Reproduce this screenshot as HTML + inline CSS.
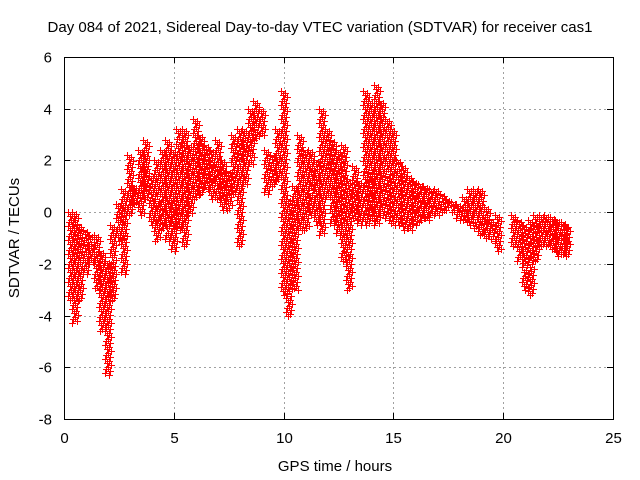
<!DOCTYPE html>
<html><head><meta charset="utf-8"><style>
body{margin:0;background:#fff}
svg{display:block;font-family:"Liberation Sans",sans-serif;font-size:15px}
</style></head><body>
<svg id="chart" width="640" height="480">
<rect width="640" height="480" fill="#fff"/>
<g id="grid"></g>
<g id="axes"></g>
<g id="marks"></g>
<text x="320" y="32" text-anchor="middle">Day 084 of 2021, Sidereal Day-to-day VTEC variation (SDTVAR) for receiver cas1</text>
<text x="335" y="471" text-anchor="middle">GPS time / hours</text>
<text transform="translate(19,238) rotate(-90)" text-anchor="middle">SDTVAR / TECUs</text>
</svg>
<script>
const xTicks=[0,5,10,15,20,25];
const yTicks=[-8,-6,-4,-2,0,2,4,6];
const times=[0.3,0.5,0.75,1,1.25,1.5,1.75,2,2.25,2.5,2.75,3,3.25,3.5,3.75,4,4.25,4.5,4.75,5,5.25,5.5,5.75,6,6.25,6.5,6.75,7,7.25,7.5,7.75,8,8.25,8.5,8.75,9,9.25,9.5,9.75,10,10.25,10.5,10.75,11,11.25,11.5,11.75,12,12.25,12.5,12.75,13,13.25,13.5,13.75,14,14.25,14.5,14.75,15,15.25,15.5,15.75,16,16.25,16.5,16.75,17,17.25,17.5,17.75,18,18.25,18.5,18.75,19,19.25,19.5,19.75,20.5,20.75,21,21.25,21.5,21.75,22,22.25,22.5,22.75,22.9];
const highs=[0,0,-0.5,-0.7,-0.9,-0.9,-1.5,-1.9,-0.5,0.3,0.9,2.2,1.0,2.4,2.8,1.4,2,2.4,2.8,2.4,3.2,3.2,2.6,3.6,3,2.6,2.4,2.8,2,1.6,3,3.2,3.2,4,4.3,4,2.4,2.2,3.2,4.7,0.5,1,3,2.4,2.4,2,4,3.2,2.8,2.4,2.6,1.2,1.8,1.2,4.7,4.3,4.9,4.3,3.6,3.2,2,1.8,1.4,1.2,1.1,1,0.9,0.9,0.7,0.5,0.4,0.3,0.6,0.9,0.9,0.9,0.2,-0.3,-0.1,-0.1,-0.3,-0.5,-0.3,-0.1,-0.1,-0.1,-0.2,-0.3,-0.4,-0.5];
const lows=[-3.4,-4.3,-3.4,-2.4,-2,-3,-4.6,-6.3,-3.4,-1.1,-2.4,-0.1,0.3,-0.1,0.5,-0.5,-1.1,-0.7,-1.1,-1.5,-0.7,-1.3,-0.1,0.5,0.7,0.9,0.5,0.5,0.1,0.1,0.7,-1.3,1,1.8,2.8,3,0.7,1,1.2,-3.2,-4,-3,-0.7,-0.7,-0.1,-0.5,-0.9,0.5,-0.5,-0.9,-1.9,-3,-0.3,-0.5,-0.5,-0.3,-0.5,-0.1,-0.3,-0.5,-0.5,-0.7,-0.7,-0.5,-0.4,-0.3,-0.2,-0.1,0,0.1,0,-0.3,-0.4,-0.5,-0.6,-0.9,-1,-1.1,-1.5,-1.3,-1.9,-3,-3.2,-1.9,-1.3,-1.3,-1.5,-1.7,-1.6,-1.7];
const X0=64,X1=613,Y0=419,Y1=57;
const sx=v=>X0+(v-0)/(25-0)*(X1-X0);
const sy=v=>Y0-(v-(-8))/(6-(-8))*(Y0-Y1);
const NS='http://www.w3.org/2000/svg';
const grid=document.getElementById('grid'),axes=document.getElementById('axes'),marks=document.getElementById('marks');
function mk(tag,attrs,parent){const e=document.createElementNS(NS,tag);for(const k in attrs)e.setAttribute(k,attrs[k]);parent.appendChild(e);return e;}
xTicks.forEach(t=>{
  const x=Math.round(sx(t))+0.5;
  if(t>0&&t<25){const g=mk('line',{x1:x,x2:x,y1:Y1,y2:Y0,stroke:'#a0a0a0','stroke-dasharray':'2,3'},grid);
  
  }
  mk('line',{x1:x,x2:x,y1:Y0,y2:Y0-6,stroke:'#000'},axes);
  mk('line',{x1:x,x2:x,y1:Y1,y2:Y1+6,stroke:'#000'},axes);
  const l=mk('text',{x:x,y:Y0+24,'text-anchor':'middle'},axes);l.textContent=t;
  
  
});
yTicks.forEach(t=>{
  const y=Math.round(sy(t))+0.5;
  if(t>-8&&t<6){const g=mk('line',{x1:X0,x2:X1,y1:y,y2:y,stroke:'#a0a0a0','stroke-dasharray':'2,3'},grid);
  
  }
  mk('line',{x1:X0,x2:X0+6,y1:y,y2:y,stroke:'#000'},axes);
  mk('line',{x1:X1,x2:X1-6,y1:y,y2:y,stroke:'#000'},axes);
  const l=mk('text',{x:X0-12,y:y+5,'text-anchor':'end'},axes);l.textContent=t;
  
  
});
mk('rect',{x:X0+0.5,y:Y1+0.5,width:X1-X0,height:Y0-Y1,fill:'none',stroke:'#000'},axes);
let d='';
times.forEach((t,i)=>{
  const x=sx(t),yh=sy(highs[i]),yl=sy(lows[i]);
  const n=Math.max(1,Math.round((yl-yh)/2));
  for(let k=0;k<=n;k++){
    const y=Math.round(yh+(yl-yh)*k/n);
    const cx=Math.round(x+[-3,1,-1,3,0,-2,2][k%7]);
    d+=`M${cx-3},${y}h7v1h-7zM${cx},${y-3}h1v7h-1z`;
  }
});
const p=mk('path',{d:d,fill:'#ff0000',stroke:'none','shape-rendering':'crispEdges'},marks);


</script>
</body></html>
